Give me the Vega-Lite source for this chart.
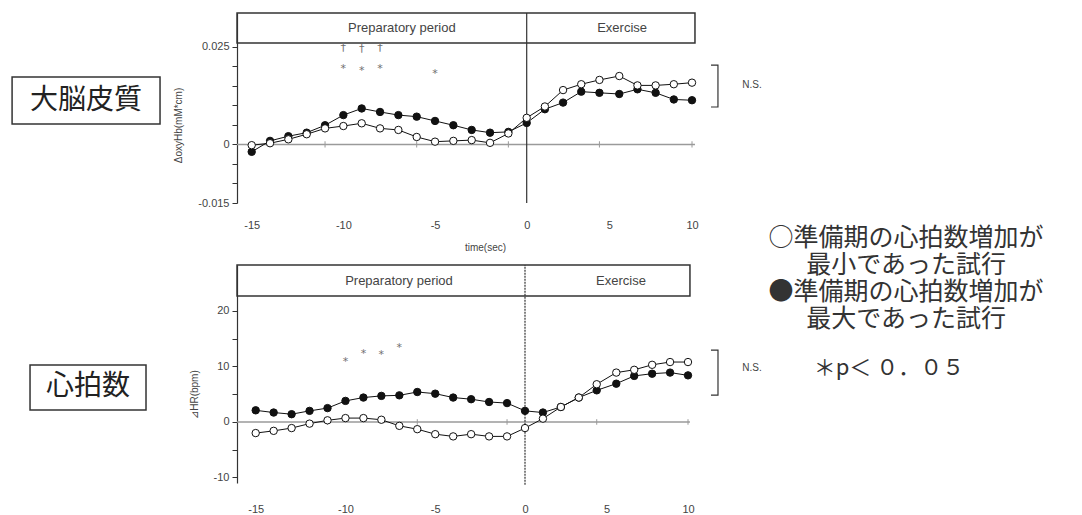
{
  "$schema": "https://vega.github.io/schema/vega-lite/v6.json",
  "autosize": {"type": "none"},
  "width": 458,
  "height": 474,
  "padding": {"left": 237, "top": 13, "right": 387, "bottom": 28},
  "background": "white",
  "config": {
    "view": {"stroke": null},
    "axis": {"labelFont": "Liberation Sans", "titleFont": "Liberation Sans", "labelFontSize": 11, "titleFontSize": 10, "titleFontWeight": "normal", "labelColor": "#444", "titleColor": "#444", "domainColor": "#333", "tickColor": "#333", "grid": false, "labelFlush": false, "labelOverlap": false},
    "text": {"font": "Liberation Sans"}
  },
  "datasets": {
    "hb": [
      {"x": -15, "y": -0.0019, "s": "max"}, {"x": -14, "y": 0.0009, "s": "max"}, {"x": -13, "y": 0.0021, "s": "max"}, {"x": -12, "y": 0.0030, "s": "max"}, {"x": -11, "y": 0.0049, "s": "max"}, {"x": -10, "y": 0.0075, "s": "max"}, {"x": -9, "y": 0.0092, "s": "max"}, {"x": -8, "y": 0.0083, "s": "max"}, {"x": -7, "y": 0.0075, "s": "max"}, {"x": -6, "y": 0.0071, "s": "max"}, {"x": -5, "y": 0.0060, "s": "max"}, {"x": -4, "y": 0.0049, "s": "max"}, {"x": -3, "y": 0.0037, "s": "max"}, {"x": -2, "y": 0.0030, "s": "max"}, {"x": -1, "y": 0.0032, "s": "max"}, {"x": 0, "y": 0.0055, "s": "max"}, {"x": 1.1, "y": 0.0090, "s": "max"}, {"x": 2.2, "y": 0.0107, "s": "max"}, {"x": 3.3, "y": 0.0135, "s": "max"}, {"x": 4.4, "y": 0.0132, "s": "max"}, {"x": 5.6, "y": 0.0129, "s": "max"}, {"x": 6.7, "y": 0.0141, "s": "max"}, {"x": 7.8, "y": 0.0132, "s": "max"}, {"x": 8.9, "y": 0.0115, "s": "max"}, {"x": 10, "y": 0.0113, "s": "max"},
      {"x": -15, "y": -0.0002, "s": "min"}, {"x": -14, "y": 0.0003, "s": "min"}, {"x": -13, "y": 0.0013, "s": "min"}, {"x": -12, "y": 0.0026, "s": "min"}, {"x": -11, "y": 0.0041, "s": "min"}, {"x": -10, "y": 0.0047, "s": "min"}, {"x": -9, "y": 0.0054, "s": "min"}, {"x": -8, "y": 0.0041, "s": "min"}, {"x": -7, "y": 0.0037, "s": "min"}, {"x": -6, "y": 0.0019, "s": "min"}, {"x": -5, "y": 0.0007, "s": "min"}, {"x": -4, "y": 0.0009, "s": "min"}, {"x": -3, "y": 0.0011, "s": "min"}, {"x": -2, "y": 0.0004, "s": "min"}, {"x": -1, "y": 0.0028, "s": "min"}, {"x": 0, "y": 0.0068, "s": "min"}, {"x": 1.1, "y": 0.0097, "s": "min"}, {"x": 2.2, "y": 0.0139, "s": "min"}, {"x": 3.3, "y": 0.0154, "s": "min"}, {"x": 4.4, "y": 0.0165, "s": "min"}, {"x": 5.6, "y": 0.0175, "s": "min"}, {"x": 6.7, "y": 0.0151, "s": "min"}, {"x": 7.8, "y": 0.0151, "s": "min"}, {"x": 8.9, "y": 0.0154, "s": "min"}, {"x": 10, "y": 0.0158, "s": "min"}
    ],
    "hr": [
      {"x": -15, "y": 2.1, "s": "max"}, {"x": -14, "y": 1.7, "s": "max"}, {"x": -13, "y": 1.4, "s": "max"}, {"x": -12, "y": 2.0, "s": "max"}, {"x": -11, "y": 2.5, "s": "max"}, {"x": -10, "y": 3.8, "s": "max"}, {"x": -9, "y": 4.4, "s": "max"}, {"x": -8, "y": 4.7, "s": "max"}, {"x": -7, "y": 4.8, "s": "max"}, {"x": -6, "y": 5.4, "s": "max"}, {"x": -5, "y": 5.1, "s": "max"}, {"x": -4, "y": 4.4, "s": "max"}, {"x": -3, "y": 4.1, "s": "max"}, {"x": -2, "y": 3.6, "s": "max"}, {"x": -1, "y": 3.4, "s": "max"}, {"x": 0, "y": 2.0, "s": "max"}, {"x": 1.1, "y": 1.7, "s": "max"}, {"x": 2.2, "y": 2.7, "s": "max"}, {"x": 3.3, "y": 4.4, "s": "max"}, {"x": 4.4, "y": 5.7, "s": "max"}, {"x": 5.6, "y": 6.9, "s": "max"}, {"x": 6.7, "y": 8.3, "s": "max"}, {"x": 7.8, "y": 8.7, "s": "max"}, {"x": 8.9, "y": 8.9, "s": "max"}, {"x": 10, "y": 8.4, "s": "max"},
      {"x": -15, "y": -2.0, "s": "min"}, {"x": -14, "y": -1.6, "s": "min"}, {"x": -13, "y": -1.1, "s": "min"}, {"x": -12, "y": -0.3, "s": "min"}, {"x": -11, "y": 0.3, "s": "min"}, {"x": -10, "y": 0.7, "s": "min"}, {"x": -9, "y": 0.7, "s": "min"}, {"x": -8, "y": 0.4, "s": "min"}, {"x": -7, "y": -0.7, "s": "min"}, {"x": -6, "y": -1.3, "s": "min"}, {"x": -5, "y": -2.2, "s": "min"}, {"x": -4, "y": -2.6, "s": "min"}, {"x": -3, "y": -2.2, "s": "min"}, {"x": -2, "y": -2.6, "s": "min"}, {"x": -1, "y": -2.6, "s": "min"}, {"x": 0, "y": -1.1, "s": "min"}, {"x": 1.1, "y": 0.6, "s": "min"}, {"x": 2.2, "y": 2.7, "s": "min"}, {"x": 3.3, "y": 4.4, "s": "min"}, {"x": 4.4, "y": 6.8, "s": "min"}, {"x": 5.6, "y": 8.9, "s": "min"}, {"x": 6.7, "y": 9.4, "s": "min"}, {"x": 7.8, "y": 10.3, "s": "min"}, {"x": 8.9, "y": 10.8, "s": "min"}, {"x": 10, "y": 10.8, "s": "min"}
    ]
  },
  "layer": [
    {
      "encoding": {
        "x": {"field": "x", "type": "quantitative", "scale": {"domain": [-15, 0, 10], "range": [14.7, 289.7, 455], "nice": false, "zero": false},
          "axis": {"orient": "bottom", "offset": -284, "values": [-15, -10, -5, 0, 5, 10], "labelExpr": "datum.value < 0 ? '-' + abs(datum.value) : '' + datum.value", "domain": false, "ticks": false, "labelPadding": 16, "title": "time(sec)", "titlePadding": 12, "titleX": 248}},
        "y": {"field": "y", "type": "quantitative", "scale": {"domain": [-0.015, 0.03363], "range": [190, 0], "nice": false, "zero": false},
          "axis": {"orient": "left", "values": [-0.015, -0.01, -0.005, 0, 0.005, 0.01, 0.015, 0.02, 0.025], "labelExpr": "abs(datum.value-0.025)<1e-9 ? '0.025' : abs(datum.value)<1e-9 ? '0' : abs(datum.value+0.015)<1e-9 ? '-0.015' : ''", "title": "ΔoxyHb(mM*cm)", "titleY": 112, "titlePadding": 14, "tickSize": 5, "labelPadding": 3, "domainWidth": 1.2}}
      },
      "layer": [
        {"data": {"values": [{"x": -15.8, "x2": 10.18, "y": 0.02595, "y2": 0.03363}, {"x": -28.07, "x2": -20.0, "y": 0.00522, "y2": 0.01725}]},
         "mark": {"type": "rect", "filled": false, "stroke": "#333", "strokeWidth": 1.5},
         "encoding": {"x2": {"field": "x2"}, "y2": {"field": "y2"}}},
        {"data": {"values": [{"x": -15.8, "x2": 10.18, "y": 0}]},
         "mark": {"type": "rule", "color": "#9a9a9a", "strokeWidth": 1.5},
         "encoding": {"x2": {"field": "x2"}}},
        {"data": {"values": [{"x": -11, "y": -0.0008, "y2": 0.0008}, {"x": -6, "y": -0.0008, "y2": 0.0008}, {"x": -1, "y": -0.0008, "y2": 0.0008}, {"x": 4.4, "y": -0.0008, "y2": 0.0008}, {"x": 10, "y": -0.0008, "y2": 0.0008}]},
         "mark": {"type": "rule", "color": "#9a9a9a", "strokeWidth": 1},
         "encoding": {"y2": {"field": "y2"}}},
        {"data": {"values": [{"x": 0, "y": -0.015, "y2": 0.03363}]},
         "mark": {"type": "rule", "color": "#333", "strokeWidth": 1.2},
         "encoding": {"y2": {"field": "y2"}}},
        {"data": {"name": "hb"},
         "mark": {"type": "line", "color": "#111", "strokeWidth": 1},
         "encoding": {"detail": {"field": "s"}}},
        {"data": {"name": "hb"},
         "mark": {"type": "point", "shape": "circle", "filled": true, "size": 55, "stroke": "#111", "strokeWidth": 1, "opacity": 1},
         "encoding": {"fill": {"field": "s", "type": "nominal", "scale": {"domain": ["max", "min"], "range": ["#111111", "#ffffff"]}, "legend": null}}},
        {"data": {"values": [{"x": -10, "y": 0.0247, "t": "†"}, {"x": -9, "y": 0.0243, "t": "†"}, {"x": -8, "y": 0.0247, "t": "†"}, {"x": -10, "y": 0.0192, "t": "*"}, {"x": -9, "y": 0.0188, "t": "*"}, {"x": -8, "y": 0.0192, "t": "*"}, {"x": -5, "y": 0.0179, "t": "*"}]},
         "mark": {"type": "text", "font": "DejaVu Sans", "fontSize": 11, "color": "#707070", "baseline": "middle", "align": "center"},
         "encoding": {"text": {"field": "t"}}},
        {"data": {"values": [{"x": 11.15, "y": 0.0203, "o": 1}, {"x": 11.57, "y": 0.0203, "o": 2}, {"x": 11.57, "y": 0.00957, "o": 3}, {"x": 11.15, "y": 0.00957, "o": 4}]},
         "mark": {"type": "line", "color": "#333", "strokeWidth": 1.2},
         "encoding": {"order": {"field": "o"}}},
        {"data": {"values": [{"x": 13.63, "y": 0.0152, "t": "N.S."}]},
         "mark": {"type": "text", "fontSize": 10, "color": "#444", "baseline": "middle", "align": "center"},
         "encoding": {"text": {"field": "t"}}},
        {"data": {"values": [{"x": -6.81, "y": 0.02979, "t": "Preparatory period"}, {"x": 5.77, "y": 0.02979, "t": "Exercise"}]},
         "mark": {"type": "text", "fontSize": 13, "color": "#444", "baseline": "middle", "align": "center"},
         "encoding": {"text": {"field": "t"}}},
        {"data": {"values": [{"x": -24.04, "y": 0.01123, "t": "大脳皮質"}]},
         "mark": {"type": "text", "font": "Noto Sans CJK JP", "fontSize": 28, "color": "#222", "baseline": "middle", "align": "center"},
         "encoding": {"text": {"field": "t"}}},
        {"data": {"values": [{"x": 22.95, "y": -0.02613, "t": ["○準備期の心拍数増加が", "最小であった試行", "●準備期の心拍数増加が", "最大であった試行"]}]},
         "mark": {"type": "text", "font": "Noto Sans CJK JP", "fontSize": 25, "lineHeight": 27, "color": "#333", "baseline": "alphabetic", "align": "center"},
         "encoding": {"text": {"field": "t"}}}
      ]
    },
    {
      "encoding": {
        "x": {"field": "x", "type": "quantitative", "scale": {"domain": [-15, 0, 10], "range": [18.7, 288, 451], "nice": false, "zero": false},
          "axis": {"orient": "bottom", "values": [-15, -10, -5, 0, 5, 10], "labelExpr": "datum.value < 0 ? '-' + abs(datum.value) : '' + datum.value", "domain": false, "ticks": false, "labelPadding": 16, "title": null}},
        "y": {"field": "y", "type": "quantitative", "scale": {"domain": [-11, 28.29], "range": [470, 252], "nice": false, "zero": false},
          "axis": {"orient": "left", "values": [-10, -5, 0, 5, 10, 15, 20], "labelExpr": "datum.value % 10 == 0 ? (datum.value < 0 ? '-' + abs(datum.value) : '' + datum.value) : ''", "title": "⊿HR(bpm)", "titleY": 381, "titlePadding": 14, "tickSize": 5, "labelPadding": 3, "domainWidth": 1.2}}
      },
      "layer": [
        {"data": {"values": [{"x": -16.04, "x2": 10.12, "y": 22.71, "y2": 28.29}, {"x": -27.57, "x2": -21.11, "y": 2.16, "y2": 10.27}]},
         "mark": {"type": "rect", "filled": false, "stroke": "#333", "strokeWidth": 1.5},
         "encoding": {"x2": {"field": "x2"}, "y2": {"field": "y2"}}},
        {"data": {"values": [{"x": -16.04, "x2": 10.12, "y": 0}]},
         "mark": {"type": "rule", "color": "#9a9a9a", "strokeWidth": 1.5},
         "encoding": {"x2": {"field": "x2"}}},
        {"data": {"values": [{"x": -11, "y": -0.5, "y2": 0.5}, {"x": -6, "y": -0.5, "y2": 0.5}, {"x": -1, "y": -0.5, "y2": 0.5}, {"x": 4.4, "y": -0.5, "y2": 0.5}, {"x": 10, "y": -0.5, "y2": 0.5}]},
         "mark": {"type": "rule", "color": "#9a9a9a", "strokeWidth": 1},
         "encoding": {"y2": {"field": "y2"}}},
        {"data": {"values": [{"x": 0, "y": -11.3, "y2": 28.29}]},
         "mark": {"type": "rule", "color": "#333", "strokeWidth": 1.2, "strokeDash": [2, 1]},
         "encoding": {"y2": {"field": "y2"}}},
        {"data": {"name": "hr"},
         "mark": {"type": "line", "color": "#111", "strokeWidth": 1},
         "encoding": {"detail": {"field": "s"}}},
        {"data": {"name": "hr"},
         "mark": {"type": "point", "shape": "circle", "filled": true, "size": 55, "stroke": "#111", "strokeWidth": 1, "opacity": 1},
         "encoding": {"fill": {"field": "s", "type": "nominal", "scale": {"domain": ["max", "min"], "range": ["#111111", "#ffffff"]}, "legend": null}}},
        {"data": {"values": [{"x": -10, "y": 10.8, "t": "*"}, {"x": -9, "y": 12.2, "t": "*"}, {"x": -8, "y": 12.1, "t": "*"}, {"x": -7, "y": 13.3, "t": "*"}]},
         "mark": {"type": "text", "font": "DejaVu Sans", "fontSize": 11, "color": "#707070", "baseline": "middle", "align": "center"},
         "encoding": {"text": {"field": "t"}}},
        {"data": {"values": [{"x": 11.41, "y": 12.95, "o": 1}, {"x": 11.84, "y": 12.95, "o": 2}, {"x": 11.84, "y": 4.82, "o": 3}, {"x": 11.41, "y": 4.82, "o": 4}]},
         "mark": {"type": "line", "color": "#333", "strokeWidth": 1.2},
         "encoding": {"order": {"field": "o"}}},
        {"data": {"values": [{"x": 13.93, "y": 9.7, "t": "N.S."}]},
         "mark": {"type": "text", "fontSize": 10, "color": "#444", "baseline": "middle", "align": "center"},
         "encoding": {"text": {"field": "t"}}},
        {"data": {"values": [{"x": -7.02, "y": 25.4, "t": "Preparatory period"}, {"x": 5.89, "y": 25.4, "t": "Exercise"}]},
         "mark": {"type": "text", "fontSize": 13, "color": "#444", "baseline": "middle", "align": "center"},
         "encoding": {"text": {"field": "t"}}},
        {"data": {"values": [{"x": -24.34, "y": 6.22, "t": "心拍数"}]},
         "mark": {"type": "text", "font": "Noto Sans CJK JP", "fontSize": 28, "color": "#222", "baseline": "middle", "align": "center"},
         "encoding": {"text": {"field": "t"}}},
        {"data": {"values": [{"x": 22.33, "y": 9.7, "t": "＊p＜ ０．０５"}]},
         "mark": {"type": "text", "font": "Noto Sans CJK JP", "fontSize": 22, "color": "#333", "baseline": "middle", "align": "center"},
         "encoding": {"text": {"field": "t"}}}
      ]
    }
  ],
  "resolve": {"scale": {"x": "independent", "y": "independent"}}
}
